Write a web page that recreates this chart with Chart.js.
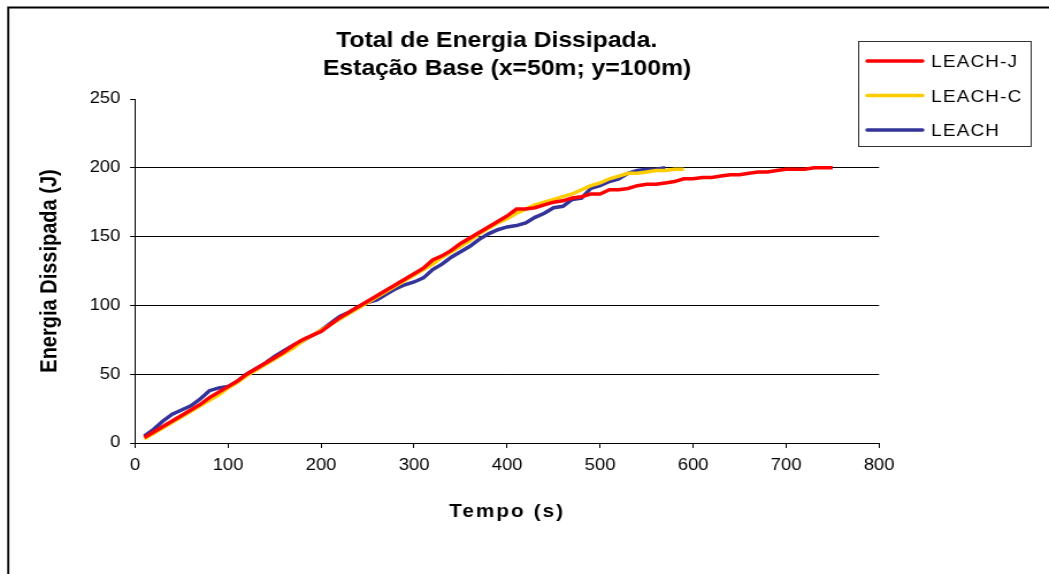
<!DOCTYPE html>
<html>
<head>
<meta charset="utf-8">
<title>Total de Energia Dissipada</title>
<script src="https://cdn.jsdelivr.net/npm/chart.js@4.4.1/dist/chart.umd.min.js"></script>
<style>
  html, body { margin: 0; padding: 0; background: #fff; overflow: hidden; }
  #chart { display: block; }
</style>
</head>
<body>
<!-- canvas is drawn narrower and stretched to the window width -->
<canvas id="chart" width="912" height="574" style="width:1049px;height:574px"></canvas>
<script>
const tempo = [10, 20, 30, 40, 50, 60, 70, 80, 90, 100, 110, 120, 130, 140, 150, 160, 170, 180, 190, 200,
  210, 220, 230, 240, 250, 260, 270, 280, 290, 300, 310, 320, 330, 340, 350, 360, 370, 380, 390, 400,
  410, 420, 430, 440, 450, 460, 470, 480, 490, 500, 510, 520, 530, 540, 550, 560, 570, 580, 590, 600,
  610, 620, 630, 640, 650, 660, 670, 680, 690, 700, 710, 720, 730, 740, 750];

const leachJ = [4, 8, 12, 16, 20, 24, 28, 33, 37, 41, 45, 50, 54, 58, 62, 66, 71, 75, 78, 81,
  86, 91, 95, 99, 103, 107, 111, 115, 119, 123, 127, 133, 136, 140, 145, 149, 153, 157, 161, 165,
  170, 170, 171, 173, 175, 176, 178, 179, 181, 181, 184, 184, 185, 187, 188, 188, 189, 190, 192, 192,
  193, 193, 194, 195, 195, 196, 197, 197, 198, 199, 199, 199, 200, 200, 200];

const leachC = [3, 7, 11, 15, 19, 23, 27, 31, 35, 40, 44, 49, 53, 57, 61, 65, 69, 74, 78, 82,
  86, 90, 94, 98, 102, 106, 110, 114, 118, 122, 126, 130, 135, 139, 143, 147, 152, 156, 160, 163,
  167, 170, 173, 175, 177, 179, 181, 184, 187, 189, 192, 194, 196, 196, 197, 198, 198, 199, 199];

const leach = [5, 10, 16, 21, 24, 27, 32, 38, 40, 41, 45, 50, 54, 58, 63, 67, 71, 74, 78, 82,
  87, 92, 95, 99, 102, 104, 108, 112, 115, 117, 120, 126, 130, 135, 139, 143, 148, 152, 155, 157,
  158, 160, 164, 167, 171, 172, 177, 178, 185, 187, 190, 192, 196, 198, 199, 199, 200];

const seriesNames = ["LEACH-J", "LEACH-C", "LEACH"];
const seriesColors = ["#ff0000", "#ffcc00", "#333399"];
const seriesValues = [leachJ, leachC, leach];

const titleLines = ["Total de Energia Dissipada.", "Estação Base (x=50m; y=100m)"];
const xTitle = "Tempo (s)";
const yTitle = "Energia Dissipada (J)";

const fontFamily = "'Liberation Sans', Arial, sans-serif";

// pairs each series with its time stamps
function toPoints(values) {
  return values.map((v, i) => ({ x: tempo[i], y: v }));
}

// titles, legend box and the outer frame
const decorations = {
  id: "decorations",
  afterDraw(chart) {
    const c = chart.ctx;
    const area = chart.chartArea;
    const mid = (area.left + area.right) / 2;
    c.save();
    c.fillStyle = "#000";
    c.textAlign = "center";
    c.textBaseline = "alphabetic";

    c.font = "bold 21.5px " + fontFamily;
    c.fillText(titleLines[0], mid - 9, 47);
    c.fillText(titleLines[1], mid, 75);

    c.font = "bold 18px " + fontFamily;
    c.letterSpacing = "1.8px";
    c.fillText(xTitle, mid, 517);
    c.letterSpacing = "0px";

    c.save();
    c.translate(43.5, (area.top + area.bottom) / 2);
    c.rotate(-Math.PI / 2);
    c.font = "bold 20px " + fontFamily;
    c.textBaseline = "middle";
    c.fillText(yTitle, 0, 0);
    c.restore();

    // legend
    c.fillStyle = "#fff";
    c.fillRect(746.5, 41.5, 150, 105);
    c.strokeStyle = "#333";
    c.lineWidth = 1;
    c.strokeRect(746.5, 41.5, 150, 105);
    c.textAlign = "left";
    c.font = "16.5px " + fontFamily;
    c.letterSpacing = "1px";
    const rows = [61, 95.5, 130];
    chart.data.datasets.forEach((ds, i) => {
      c.strokeStyle = ds.borderColor;
      c.lineWidth = 3.5;
      c.lineCap = "round";
      c.beginPath();
      c.moveTo(754, rows[i]);
      c.lineTo(802, rows[i]);
      c.stroke();
      c.fillStyle = "#000";
      c.fillText(ds.label, 809.5, rows[i] + 6);
    });
    c.letterSpacing = "0px";

    // outer frame, left and top edges
    c.strokeStyle = "#000";
    c.lineWidth = 1.8;
    c.lineCap = "butt";
    c.beginPath();
    c.moveTo(7.2, 574);
    c.lineTo(7.2, 7.5);
    c.lineTo(912, 7.5);
    c.stroke();
    c.restore();
  }
};

new Chart(document.getElementById("chart"), {
  type: "line",
  data: {
    datasets: seriesNames.map((name, i) => ({
      label: name,
      data: toPoints(seriesValues[i]),
      borderColor: seriesColors[i],
      backgroundColor: seriesColors[i],
      borderWidth: 3.5,
      pointRadius: 0,
      tension: 0,
      fill: false
    }))
  },
  options: {
    responsive: false,
    animation: false,
    devicePixelRatio: 1,
    layout: { padding: { left: 0, top: 99, right: 147.7, bottom: 0 } },
    plugins: {
      legend: { display: false },
      title: { display: false },
      tooltip: { enabled: false }
    },
    scales: {
      x: {
        type: "linear",
        min: 0,
        max: 800,
        afterFit(scale) { scale.height = 131; },
        ticks: {
          stepSize: 100,
          color: "#000",
          padding: 8,
          maxRotation: 0,
          font: { family: fontFamily, size: 16 }
        },
        grid: {
          drawOnChartArea: false,
          drawTicks: true,
          tickLength: 5,
          tickColor: "#000",
          color: "#000"
        },
        border: { color: "#000", width: 1 }
      },
      y: {
        min: 0,
        max: 250,
        afterFit(scale) { scale.width = 117.4; },
        ticks: {
          stepSize: 50,
          color: "#000",
          padding: 8.5,
          font: { family: fontFamily, size: 16 }
        },
        grid: {
          color: (ctx) => (ctx.tick && ctx.tick.value === 250 ? "rgba(0,0,0,0)" : "#000"),
          tickColor: "#000",
          tickLength: 4.3,
          lineWidth: 1
        },
        border: { color: "#000", width: 1 }
      }
    }
  },
  plugins: [decorations]
});
</script>
</body>
</html>
